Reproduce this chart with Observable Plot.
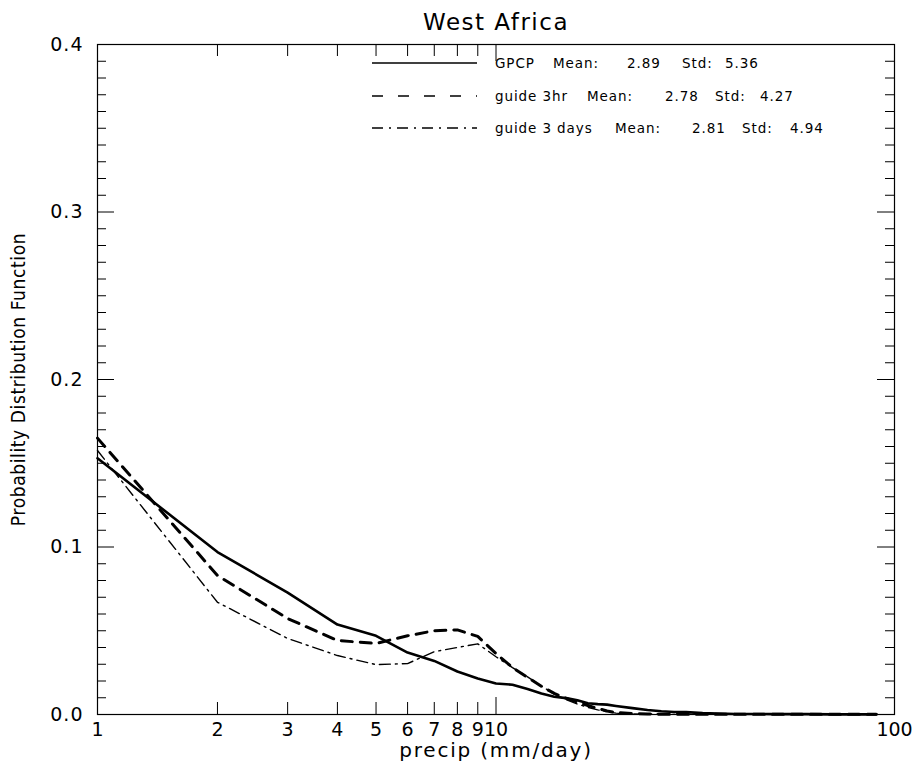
<!DOCTYPE html>
<html>
<head>
<meta charset="utf-8">
<script src="https://cdn.jsdelivr.net/npm/d3@7"></script>
<script src="https://cdn.jsdelivr.net/npm/@observablehq/plot@0.6"></script>
<style>
  body { margin: 0; background: #fff; }
  #chart svg { display: block; }
</style>
</head>
<body>
<div id="chart"></div>
<script>
// ---- data ----
const precip = [1,2,3,4,5,6,7,8,9,10,11,12,13,14,15,16,17,18,19,20,22,24,26,28,30,33,36,40,45,50,60,70,80,90];
const gpcp = [0.153,0.097,0.0728,0.0537,0.047,0.037,0.032,0.0257,0.0215,0.0185,0.0178,0.0152,0.0125,0.0106,0.0098,0.0085,0.0067,0.0062,0.0059,0.0051,0.0038,0.0027,0.0019,0.0015,0.0014,0.0008,0.0005,0.0003,0.0003,0.0002,0.0002,0.0001,0.0001,0.0001];
const guide3hr = [0.165,0.083,0.0573,0.0442,0.0424,0.047,0.050,0.0505,0.0466,0.0364,0.028,0.0222,0.0168,0.0126,0.0096,0.0074,0.0054,0.0036,0.0021,0.0012,0.0005,0.0003,0.0002,0.0002,0.0001,0.0001,0.0001,0.0001,0.0001,0.0001,0.0001,0.0001,0.0001,0.0001];
const guide3days = [0.1576,0.067,0.0454,0.0352,0.0298,0.0304,0.0375,0.040,0.0422,0.0345,0.028,0.0225,0.017,0.0122,0.0088,0.0062,0.0043,0.0028,0.0016,0.0008,0.0003,0.0002,0.0001,0.0001,0.0001,0.0001,0.0001,0.0001,0.0001,0.0001,0.0001,0.0001,0.0001,0.0001];

const seriesNames = ["GPCP", "guide 3hr", "guide 3 days"];
const seriesMeans = ["2.89", "2.78", "2.81"];
const seriesStds = ["5.36", "4.27", "4.94"];

const xTickLabels = [1,2,3,4,5,6,7,8,9,10,100];
const xMinorTicks = [2,3,4,5,6,7,8,9];
const xMajorTicks = [10];
const yTickLabels = [0,0.1,0.2,0.3,0.4];
const yMinorTicks = [0.01,0.02,0.03,0.04,0.05,0.06,0.07,0.08,0.09,
  0.11,0.12,0.13,0.14,0.15,0.16,0.17,0.18,0.19,
  0.21,0.22,0.23,0.24,0.25,0.26,0.27,0.28,0.29,
  0.31,0.32,0.33,0.34,0.35,0.36,0.37,0.38,0.39];

const title = "West Africa";
const xLabel = "precip (mm/day)";
const yLabel = "Probability Distribution Function";

// ---- layout ----
const W = 920, H = 774;
const mL = 97, mR = 26, mT = 44, mB = 60;
const fw = W - mL - mR, fh = H - mT - mB;
const font = "'DejaVu Sans', 'Liberation Sans', sans-serif";

const rows = (ys, name) => precip.map((x, i) => ({x, y: ys[i], name}));
const dGpcp = rows(gpcp, "GPCP");
const dHr = rows(guide3hr, "guide 3hr");
const dDays = rows(guide3days, "guide 3 days");

const chart = Plot.plot({
  width: W, height: H,
  marginLeft: mL, marginRight: mR, marginTop: mT, marginBottom: mB,
  style: {fontFamily: font, background: "#fff", color: "#000"},
  x: {type: "log", domain: [1, 100], axis: null},
  y: {domain: [0, 0.4], axis: null},
  marks: [
    // minor / major ticks (inward)
    Plot.ruleX(xMinorTicks, {x: d => d, insetTop: fh - 12, stroke: "#000"}),
    Plot.ruleX(xMinorTicks, {x: d => d, insetBottom: fh - 12, stroke: "#000"}),
    Plot.ruleX(xMajorTicks, {x: d => d, insetTop: fh - 17, stroke: "#000"}),
    Plot.ruleX(xMajorTicks, {x: d => d, insetBottom: fh - 17, stroke: "#000"}),
    Plot.ruleY(yMinorTicks, {y: d => d, insetRight: fw - 9, stroke: "#000"}),
    Plot.ruleY(yMinorTicks, {y: d => d, insetLeft: fw - 9, stroke: "#000"}),
    Plot.ruleY(yTickLabels, {y: d => d, insetRight: fw - 17, stroke: "#000"}),
    Plot.ruleY(yTickLabels, {y: d => d, insetLeft: fw - 17, stroke: "#000"}),
    // tick labels
    Plot.text(xTickLabels, {x: d => d, frameAnchor: "bottom", lineAnchor: "top", dy: 8, fontSize: 19,
      text: d => String(d), fill: "#000", className: "xtick"}),
    Plot.text(yTickLabels, {y: d => d, frameAnchor: "left", textAnchor: "end", dx: -14, fontSize: 19,
      text: d => d3.format(".1f")(d), fill: "#000", className: "ytick"}),
    // data
    Plot.line(dGpcp, {x: "x", y: "y", stroke: "#000", strokeWidth: 2.6}),
    Plot.line(dHr, {x: "x", y: "y", stroke: "#000", strokeWidth: 3, strokeDasharray: "11,8"}),
    Plot.line(dDays, {x: "x", y: "y", stroke: "#000", strokeWidth: 1.4, strokeDasharray: "11,5,2,5"}),
    Plot.frame({stroke: "#000", strokeWidth: 1.2}),
    // title and axis labels
    Plot.text([title], {frameAnchor: "top", lineAnchor: "middle", dy: -22, fontSize: 23,
      text: d => d, fill: "#000", className: "ttl"}),
    Plot.text([xLabel], {frameAnchor: "bottom", lineAnchor: "middle", dy: 36, fontSize: 20,
      text: d => d, fill: "#000", className: "xlab"}),
    Plot.text([yLabel], {frameAnchor: "left", textAnchor: "middle", lineAnchor: "middle", dx: -79, rotate: -90,
      fontSize: 19, text: d => d, fill: "#000", className: "ylab",
      fontFamily: "'DejaVu Sans Condensed', 'Liberation Sans Narrow', 'Roboto Condensed', sans-serif"})
  ]
});

const svg = d3.select(chart);
svg.selectAll(".ttl text").attr("letter-spacing", 1.5);
svg.selectAll(".xlab text").attr("letter-spacing", 1.8);
svg.selectAll(".ylab text").attr("letter-spacing", 0.6);
svg.selectAll(".ytick text").attr("letter-spacing", 1);

// legend drawn into the same SVG
const lineY = [63, 96, 128];
const dashes = [null, "11,15", "11,6,2,6"];
const colX = [
  [495, 553, 627, 682, 725],
  [495, 587, 665, 715, 760],
  [495, 615, 692, 742, 790]
];
const g = svg.append("g").attr("font-family", font).attr("font-size", 13.5)
  .attr("fill", "#000").attr("text-anchor", "start");
seriesNames.forEach((name, i) => {
  g.append("line").attr("x1", 372).attr("x2", 477).attr("y1", lineY[i]).attr("y2", lineY[i])
    .attr("stroke", "#000").attr("stroke-width", 1.3).attr("stroke-dasharray", dashes[i]);
  const parts = [name, "Mean:", seriesMeans[i], "Std:", seriesStds[i]];
  parts.forEach((p, j) => {
    g.append("text").attr("x", colX[i][j]).attr("y", lineY[i] + 5).attr("letter-spacing", 0.9).text(p);
  });
});

document.getElementById("chart").appendChild(chart);
</script>
</body>
</html>
